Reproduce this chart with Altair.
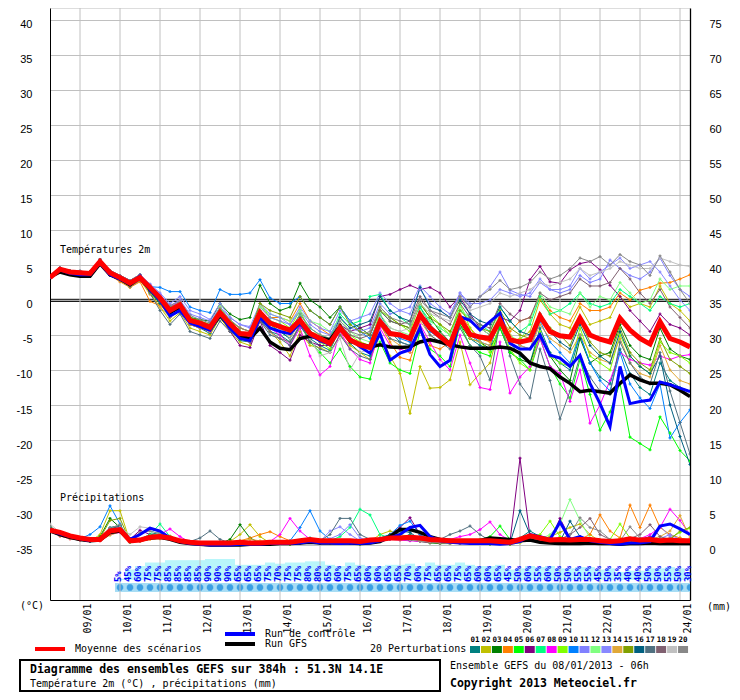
import altair as alt
import pandas as pd

# ---------------- data ----------------
STEPS = list(range(65))                       # 6-hourly steps from 08/01 06h to 24/01 06h
DATES = ["09/01", "10/01", "11/01", "12/01", "13/01", "14/01", "15/01", "16/01",
         "17/01", "18/01", "19/01", "20/01", "21/01", "22/01", "23/01", "24/01"]
DATE_STEPS = [3, 7, 11, 15, 19, 23, 27, 31, 35, 39, 43, 47, 51, 55, 59, 63]

MEMBERS = ["01", "02", "03", "04", "05", "06", "07", "08", "09", "10",
           "11", "12", "13", "14", "15", "16", "17", "18", "19", "20"]
COLORS = ["#008080", "#c0c000", "#008000", "#ff8000", "#00ff00", "#800080", "#00ff80",
          "#ff00ff", "#80ff00", "#0080ff", "#8080ff", "#80ff80", "#8888ff", "#e0a838",
          "#80a000", "#006080", "#507080", "#806070", "#c0c0c0", "#888888"]

PROB_STEPS = list(range(7, 65))
PROB = [5, 45, 60, 75, 75, 85, 85, 85, 85, 90, 90, 90, 65, 65, 65, 75, 70, 75, 75, 80,
        80, 65, 60, 75, 65, 60, 60, 65, 65, 70, 60, 75, 65, 65, 75, 65, 60, 60, 65, 45,
        50, 60, 55, 60, 50, 50, 55, 55, 45, 50, 35, 40, 40, 50, 50, 55, 50, 30]

T_MEAN = [3.2, 4.4, 4.0, 3.9, 3.8, 5.5, 3.9, 3.2, 2.4, 3.2, 1.8, 0.3, -1.5, -0.7, -2.9,
          -3.3, -3.9, -1.8, -3.4, -4.8, -4.9, -1.8, -3.3, -3.8, -4.3, -2.9, -4.8, -5.5, -6.2, -4.0,
          -5.7, -6.4, -6.8, -3.1, -4.8, -5.0, -5.5, -2.1, -4.0, -5.2, -6.4, -2.6, -4.9, -5.3, -5.5,
          -2.9, -5.7, -6.0, -5.7, -2.3, -4.5, -5.1, -5.3, -2.6, -5.0, -5.6, -6.0, -2.6, -4.3, -5.5,
          -6.3, -3.1, -5.5, -6.0, -6.7]
T_CTRL = [3.2, 4.3, 3.8, 3.6, 3.6, 5.3, 3.6, 3.0, 2.3, 3.4, 1.5, 0.0, -2.3, -1.5, -3.3,
          -3.8, -4.3, -2.0, -4.0, -5.5, -5.8, -2.5, -4.0, -4.5, -4.8, -3.3, -5.0, -5.8, -6.3, -4.0,
          -5.5, -6.7, -7.6, -4.8, -8.6, -7.6, -7.1, -4.0, -7.8, -9.5, -8.6, -2.4, -2.9, -4.3, -3.1,
          -1.9, -6.2, -7.0, -7.0, -5.0, -7.9, -8.3, -9.5, -7.9, -11.9, -14.8, -18.1, -9.5, -14.8, -14.5,
          -14.3, -11.7, -12.1, -12.6, -13.1]
T_GFS = [3.3, 4.0, 3.6, 3.4, 3.4, 5.2, 3.6, 3.0, 2.2, 3.2, 1.5, 0.2, -1.8, -1.0, -3.0,
         -3.5, -4.2, -2.2, -3.8, -5.2, -5.5, -4.0, -6.0, -6.9, -7.1, -5.5, -5.2, -5.4, -5.7, -3.8,
         -5.9, -6.3, -6.7, -6.4, -6.7, -6.8, -6.7, -6.0, -5.7, -6.0, -6.4, -6.7, -6.9, -6.9, -6.9,
         -6.7, -6.9, -7.6, -9.0, -9.5, -9.8, -11.0, -11.9, -13.1, -12.9, -13.1, -13.3, -11.9, -10.7, -11.4,
         -11.9, -11.9, -12.1, -12.9, -13.8]

T_P01 = [3.2, 4.5, 4.1, 4.0, 3.9, 5.6, 4.0, 3.3, 2.6, 3.3, 1.5, -0.5, -2.5, -1.2, -3.5, -4.0, -4.8, -2.5, -4.2, -5.8, -6.0, -2.8, -4.5, -5.0, -6.0, -3.8, -5.5, -6.5, -7.2, -4.0, -6.2, -7.5, -8.0, -2.0, -4.5, -6.0, -6.5, -1.0, -3.5, -5.0, -6.5, -3.0, -5.5, -6.5, -7.0, -2.0, -6.0, -8.0, -9.0, -4.0, -7.5, -9.0, -10.0, -5.0, -9.0, -11.0, -12.0, -7.0, -10.5, -12.5, -13.5, -9.0, -11.5, -12.5, -13.0]
T_P02 = [3.2, 4.2, 3.8, 3.7, 3.6, 5.2, 3.5, 2.8, 1.9, 2.8, 1.0, -1.0, -3.0, -1.8, -4.0, -4.5, -5.0, -2.5, -4.5, -6.0, -6.5, -2.0, -4.5, -6.0, -8.0, -4.5, -6.5, -6.8, -7.5, -5.0, -6.5, -7.5, -8.5, -5.0, -8.0, -10.5, -16.2, -9.5, -12.6, -12.5, -11.4, -6.0, -12.1, -10.5, -9.0, -3.5, -6.0, -5.5, -4.5, 0.0, -2.0, -3.5, -4.0, -1.0, -3.5, -3.0, -2.5, 0.5, -1.0, -0.5, -1.0, 2.0, -0.5, -1.5, -3.0]
T_P03 = [3.2, 4.3, 3.9, 3.8, 3.7, 5.3, 3.7, 3.0, 2.2, 3.0, 1.4, 0.0, -1.8, -0.5, -2.5, -2.8, -3.0, -0.5, -2.0, -2.8, -2.5, 2.1, -0.5, -1.5, -1.0, 2.4, 0.0, -1.0, -2.5, -1.0, -3.0, -4.0, -5.0, -1.5, -3.0, -3.5, -4.0, -0.5, -2.5, -4.5, -6.0, -3.5, -5.5, -6.0, -7.0, -4.0, -7.5, -8.5, -9.0, -5.0, -8.0, -10.0, -11.5, -5.5, -9.0, -8.0, -7.5, -3.5, -6.5, -8.0, -8.5, -4.0, -7.0, -8.0, -8.5]
T_P04 = [3.2, 4.3, 3.9, 3.7, 3.6, 5.4, 3.5, 2.6, 1.8, 2.6, -0.2, -0.8, -2.0, -1.0, -3.0, -3.0, -3.5, -1.0, -3.0, -4.0, -4.5, -1.0, -2.5, -2.5, -3.0, -0.5, -3.0, -4.0, -5.0, -3.5, -5.5, -6.0, -6.5, -3.5, -6.0, -8.2, -8.6, -4.0, -6.5, -7.0, -6.0, -2.0, -4.0, -5.5, -6.0, -2.5, -4.5, -3.0, -2.5, 0.5, -1.5, -2.5, -3.0, -0.5, -1.5, -1.5, -1.0, 1.0, 0.0, 1.4, 1.8, 2.4, 2.5, 3.0, 3.6]
T_P05 = [3.2, 4.6, 4.2, 4.1, 4.0, 5.8, 4.2, 3.5, 2.8, 3.6, 2.0, 0.5, -1.0, -0.3, -2.5, -3.0, -3.8, -1.5, -3.5, -5.0, -5.5, -2.0, -3.5, -4.5, -5.5, -3.0, -6.0, -7.5, -9.0, -7.0, -9.5, -11.0, -11.3, -6.0, -9.0, -10.0, -10.5, -4.5, -7.0, -8.0, -9.5, -3.5, -6.5, -7.5, -8.0, -4.0, -7.5, -8.5, -10.0, -5.5, -9.5, -12.0, -14.0, -8.5, -13.5, -18.6, -16.0, -11.9, -19.6, -20.5, -21.4, -16.7, -19.0, -21.5, -23.0]
T_P06 = [3.2, 4.5, 4.1, 4.0, 3.9, 5.6, 4.0, 3.3, 2.6, 3.3, 1.2, -0.5, -2.2, -1.5, -3.5, -4.0, -4.5, -2.0, -4.5, -6.5, -6.8, -3.0, -6.5, -7.5, -8.6, -5.0, -6.0, -6.5, -6.5, -3.5, -4.5, -4.0, -3.5, 0.5, 0.8, 1.5, 2.1, 1.5, 1.8, 1.0, -1.0, 0.5, -2.0, -4.0, -5.0, -2.5, -3.0, -1.5, 2.9, 4.8, 2.6, 2.4, 4.3, 5.2, 5.5, 4.3, 2.1, 0.5, -1.5, -3.0, -4.5, -2.0, -3.5, -4.0, -5.0]
T_P07 = [3.2, 4.3, 3.9, 3.8, 3.7, 5.3, 3.7, 3.0, 2.2, 3.0, 1.6, 0.2, -1.2, -0.5, -2.8, -3.5, -4.0, -1.5, -3.5, -5.0, -5.5, -1.5, -3.0, -3.5, -4.5, -2.0, -4.0, -5.0, -5.5, -2.0, -3.5, -3.0, 0.5, 0.8, -1.5, -2.5, -3.5, -1.0, -3.0, -4.0, -5.0, -1.5, -2.5, -3.5, -4.5, -1.0, -3.0, -4.5, -3.5, 0.5, -2.0, -1.5, -0.5, 1.0, -0.5, -1.0, -0.5, 1.5, 0.5, -0.5, -1.5, 0.5, -0.5, -1.0, -0.5]
T_P08 = [3.2, 4.6, 4.2, 4.1, 4.0, 5.8, 4.2, 3.5, 2.8, 3.6, 2.2, 0.8, -1.0, -0.2, -3.0, -3.5, -4.5, -2.0, -4.0, -5.5, -6.0, -2.5, -4.0, -5.0, -6.5, -4.0, -8.0, -10.7, -9.5, -4.5, -7.0, -8.5, -9.0, -4.0, -6.5, -7.0, -7.5, -3.5, -6.0, -8.5, -10.0, -5.0, -9.0, -12.5, -12.8, -6.0, -13.3, -11.0, -9.5, -5.5, -9.5, -10.5, -14.5, -10.0, -17.6, -15.0, -11.5, -7.5, -8.5, -9.0, -9.3, -8.0, -8.5, -8.0, -7.8]
T_P09 = [3.2, 4.2, 3.8, 3.7, 3.6, 5.2, 3.5, 2.8, 1.9, 2.8, 1.0, -0.5, -2.0, -1.0, -3.2, -3.8, -4.2, -1.0, -3.0, -4.5, -5.0, -0.5, -2.5, -3.0, -4.0, -1.5, -4.5, -6.0, -7.0, -3.5, -5.0, -6.0, -6.5, -1.5, -2.5, -3.5, -4.5, -0.5, -2.0, -3.5, -5.0, -0.5, -4.0, -6.0, -7.5, -3.5, -7.0, -9.0, -10.0, -4.5, -8.0, -9.0, -9.5, -4.0, -8.0, -9.0, -10.0, -5.0, -8.0, -9.5, -10.5, -6.0, -7.5, -8.0, -9.0]
T_P10 = [3.2, 4.4, 4.0, 3.9, 3.8, 5.3, 3.8, 3.3, 2.8, 3.5, 1.9, 1.8, 1.2, 1.2, -1.0, -1.5, -1.8, 1.5, 0.8, 0.8, 1.0, 2.9, 0.3, -0.5, -0.5, 0.5, -1.5, -2.5, -3.5, -1.0, -3.0, -4.5, -5.5, -2.5, -4.5, -5.5, -6.0, -2.5, -4.5, -5.5, -6.5, -3.0, -5.0, -6.0, -6.5, -3.0, -5.5, -6.5, -7.0, -3.0, -6.0, -7.5, -9.0, -5.0, -9.0, -11.5, -13.0, -7.5, -12.0, -14.0, -15.5, -12.0, -19.7, -17.5, -15.7]
T_P11 = [3.2, 4.5, 4.1, 4.0, 3.9, 5.6, 4.0, 3.3, 2.6, 3.3, 2.0, 0.8, -0.8, 0.0, -2.0, -2.5, -3.0, -1.0, -2.5, -3.5, -4.0, -1.0, -2.5, -3.0, -3.5, -1.5, -3.5, -4.5, -5.0, -2.5, -4.0, -4.5, -4.0, -0.5, -2.0, -1.5, -1.0, 2.0, 0.5, -1.0, -2.0, 1.0, -1.0, 0.5, 1.9, 4.0, 1.4, 0.8, 0.5, 2.5, 1.5, 1.0, 1.5, 3.5, 2.5, 3.0, 5.7, 4.5, 3.5, 3.0, 4.0, 6.0, 3.5, 1.5, 0.5]
T_P12 = [3.2, 4.3, 3.9, 3.8, 3.7, 5.3, 3.7, 3.0, 2.2, 3.0, 1.8, 0.0, -1.5, -0.8, -3.0, -3.5, -4.0, -1.0, -3.0, -4.5, -5.0, -1.0, -2.0, -2.5, -3.0, -1.5, -3.0, -3.5, -4.5, -2.5, -4.5, -5.5, -6.0, -2.0, -4.0, -4.5, -5.0, -1.5, -3.0, -4.0, -5.0, -1.0, -3.0, -4.0, -5.0, -2.0, -5.0, -6.0, -3.0, 1.0, -1.0, -1.5, -2.0, 1.0, -1.0, 0.5, 0.0, 2.5, 1.0, -0.5, 0.0, 3.0, 1.5, 2.0, 2.0]
T_P13 = [3.2, 4.6, 4.2, 4.1, 4.0, 5.8, 4.2, 3.5, 2.8, 3.6, 2.3, 1.0, -0.5, 0.5, -1.5, -2.0, -2.8, -0.5, -2.5, -3.5, -3.8, -0.5, -2.0, -2.5, -3.5, -1.0, -3.0, -4.0, -4.5, -1.5, -3.0, -2.5, -2.0, 1.0, -0.5, -1.5, -2.0, 1.5, -0.5, -1.5, -2.5, 1.0, -0.5, -0.5, 0.0, 1.5, 1.0, 0.5, 1.0, 3.0, 1.5, 1.5, 2.0, 4.5, 3.0, 4.0, 5.0, 6.0, 4.5, 5.0, 5.5, 4.0, 2.0, 0.0, -1.5]
T_P14 = [3.2, 4.2, 3.8, 3.7, 3.6, 5.2, 3.5, 2.8, 1.9, 2.8, 0.8, -1.0, -2.5, -1.5, -3.5, -4.0, -4.5, -2.0, -3.5, -5.0, -5.5, -1.5, -3.5, -4.0, -5.0, -2.5, -4.5, -5.0, -6.0, -4.0, -6.0, -6.5, -7.0, -3.0, -5.5, -6.5, -7.5, -3.0, -5.0, -6.0, -6.5, -3.0, -5.5, -6.0, -6.5, -2.5, -5.0, -6.5, -7.0, -3.5, -5.5, -6.5, -7.5, -5.0, -7.5, -8.5, -9.0, -5.5, -9.0, -10.5, -11.0, -6.5, -10.0, -11.5, -12.0]
T_P15 = [3.2, 4.5, 4.1, 4.0, 3.9, 5.6, 4.0, 3.3, 2.6, 3.3, 1.6, 0.5, -1.0, -0.5, -2.5, -3.0, -3.5, -1.5, -3.0, -4.0, -4.5, -0.5, -1.5, -2.0, -2.5, 0.5, -1.5, -2.5, -3.5, -1.0, -3.5, -4.5, -5.0, -1.0, -2.5, -3.5, -4.0, -0.5, -2.5, -3.5, -4.5, -1.5, -3.0, -4.0, -4.5, -1.5, -4.0, -5.0, -5.5, -2.0, -4.0, -5.0, -6.5, -3.0, -6.0, -7.5, -8.0, -4.0, -7.5, -9.0, -10.0, -5.5, -8.5, -9.5, -10.5]
T_P16 = [3.2, 4.3, 3.9, 3.8, 3.7, 5.3, 3.7, 3.0, 2.2, 3.0, 1.2, -0.5, -2.0, -1.0, -3.0, -3.5, -4.0, -2.0, -3.5, -5.0, -5.5, -2.0, -4.0, -4.5, -5.5, -2.5, -4.5, -5.5, -6.0, -2.5, -4.0, -3.5, -3.0, 0.5, -1.5, -2.5, -3.0, 1.8, -1.0, -1.5, -2.5, 0.0, -2.0, -3.0, -3.5, -1.0, -3.0, -4.5, -5.0, -2.0, -4.5, -6.0, -7.0, -3.5, -6.5, -8.0, -9.0, -4.5, -8.0, -9.5, -10.5, -8.0, -15.0, -19.5, -23.5]
T_P17 = [3.2, 4.6, 4.2, 4.1, 4.0, 5.8, 4.2, 3.5, 2.8, 3.6, 1.0, -1.5, -3.5, -2.0, -4.5, -5.0, -5.5, -3.0, -4.5, -5.5, -6.0, -3.0, -5.0, -5.5, -6.5, -3.5, -6.0, -7.0, -7.5, -5.0, -7.0, -8.0, -8.5, -3.5, -5.5, -6.0, -6.5, -2.5, -5.0, -6.0, -7.0, -4.0, -6.5, -8.0, -11.4, -3.0, -8.0, -12.0, -14.0, -7.0, -11.5, -17.0, -13.0, -8.0, -11.0, -13.0, -13.5, -6.0, -9.0, -11.0, -12.0, -7.5, -13.0, -17.5, -22.0]
T_P18 = [3.2, 4.2, 3.8, 3.7, 3.6, 5.2, 3.5, 2.8, 1.9, 2.8, 1.3, 0.0, -1.5, -1.0, -3.0, -3.5, -4.2, -2.2, -4.0, -5.5, -6.0, -3.0, -4.5, -5.5, -6.0, -3.5, -5.0, -6.0, -6.5, -3.5, -5.0, -5.5, -5.0, -1.5, -3.0, -3.5, -3.0, 0.5, -1.5, -2.5, -3.5, -0.5, -2.5, -3.5, -4.0, -0.5, -2.0, -3.0, -2.5, 1.0, 0.0, 0.5, 1.0, 3.0, 2.0, 2.0, 2.5, 4.5, 3.0, 1.0, -0.5, 1.5, -1.0, -2.5, -4.0]
T_P19 = [3.2, 4.5, 4.1, 4.0, 3.9, 5.6, 4.0, 3.3, 2.6, 3.3, 1.7, 0.4, -1.2, -0.6, -2.7, -3.2, -3.8, -1.7, -3.3, -4.8, -5.0, -2.0, -3.5, -4.0, -5.5, -3.0, -5.5, -8.0, -7.5, -5.5, -10.0, -7.5, -7.0, -2.5, -4.0, -4.5, -4.0, -0.5, -2.0, -2.5, -3.0, 0.5, -1.5, -1.0, -0.5, 1.0, 0.5, 1.0, 1.5, 2.5, 2.0, 2.5, 3.0, 4.5, 3.5, 4.0, 4.5, 5.5, 5.0, 4.5, 4.5, 6.0, 5.5, 5.0, 4.8]
T_P20 = [3.2, 4.6, 4.2, 4.1, 4.0, 5.8, 4.2, 3.5, 2.8, 3.6, 2.1, 0.6, -0.8, -0.2, -2.2, -2.8, -3.3, -1.2, -2.8, -4.0, -4.5, -1.5, -3.0, -4.0, -4.5, -2.0, -4.0, -5.0, -5.5, -3.0, -4.5, -5.0, -4.5, -1.0, -2.5, -3.0, -3.5, 0.0, -1.5, -2.0, -2.5, 0.5, -1.0, 0.5, 1.5, 2.8, 1.5, 1.8, 2.5, 4.0, 3.0, 3.5, 4.5, 6.0, 5.5, 6.2, 5.0, 6.5, 5.5, 5.0, 3.5, 6.3, 4.0, 1.5, -0.5]

# precipitation (mm per 6 h)
P_MEAN = [2.1, 1.8, 1.3, 1.0, 0.8, 0.8, 2.0, 2.2, 0.6, 0.7, 1.1, 1.2, 1.0, 0.6, 0.4, 0.3, 0.3, 0.3, 0.3, 0.4, 0.3, 0.3, 0.4, 0.4, 0.4, 0.6, 0.8, 0.6, 0.6, 0.6, 0.6, 0.5, 0.7, 0.8, 1.0, 1.0, 1.1, 1.0, 0.8, 0.7, 0.6, 0.6, 0.6, 0.6, 0.6, 0.5, 0.4, 0.8, 1.3, 1.0, 0.7, 0.8, 0.7, 0.8, 0.8, 0.6, 0.5, 0.6, 0.9, 0.7, 0.8, 0.6, 0.7, 0.6, 0.6]
P_CTRL = [2.1, 1.6, 1.2, 0.9, 0.6, 0.8, 2.0, 2.3, 0.8, 1.5, 2.4, 2.0, 1.0, 0.5, 0.2, 0.1, 0.0, 0.0, 0.0, 0.1, 0.1, 0.1, 0.2, 0.2, 0.2, 0.3, 0.5, 0.3, 0.3, 0.2, 0.3, 0.2, 0.3, 0.6, 1.0, 1.5, 2.5, 2.8, 1.2, 0.6, 0.4, 0.3, 0.2, 0.2, 0.2, 0.1, 0.2, 0.5, 1.5, 1.2, 0.8, 3.3, 0.8, 1.2, 0.6, 0.4, 0.2, 0.1, 0.3, 0.3, 0.5, 2.7, 3.0, 2.3, 1.5]
P_GFS = [2.0, 1.5, 1.1, 0.8, 0.6, 0.7, 1.8, 2.0, 0.6, 0.7, 1.0, 1.1, 0.8, 0.4, 0.2, 0.1, 0.0, 0.0, 0.0, 0.0, 0.1, 0.1, 0.1, 0.2, 0.2, 0.3, 0.4, 0.3, 0.3, 0.3, 0.3, 0.2, 0.3, 0.5, 1.2, 2.2, 2.2, 1.8, 1.2, 0.8, 0.6, 0.5, 0.6, 0.6, 1.0, 0.9, 0.8, 0.6, 0.7, 0.4, 0.3, 0.2, 0.2, 0.2, 0.3, 0.2, 0.2, 0.1, 0.2, 0.2, 0.3, 0.2, 0.2, 0.2, 0.2]

P_P01 = [2.5, 1.6, 1.2, 0.9, 0.6, 0.9, 2.5, 2.8, 0.4, 0.8, 1.5, 1.8, 1.2, 0.5, 0.2, 0.1, 0.2, 0.1, 0.1, 0.3, 0.2, 0.1, 0.2, 0.3, 0.2, 0.5, 1.0, 0.4, 0.5, 0.3, 0.4, 0.2, 0.5, 0.8, 1.2, 1.0, 1.5, 0.8, 0.6, 0.4, 0.3, 0.5, 0.4, 0.3, 0.2, 0.3, 0.2, 1.0, 2.0, 1.2, 0.6, 0.5, 0.4, 0.6, 0.9, 0.5, 0.3, 0.4, 0.7, 0.5, 0.6, 0.3, 0.5, 0.4, 0.3]
P_P02 = [2.2, 1.4, 1.0, 0.8, 0.5, 1.5, 4.9, 4.9, 0.5, 0.6, 1.0, 1.3, 0.8, 0.4, 0.2, 0.1, 0.2, 0.3, 0.5, 1.5, 2.9, 1.2, 0.3, 0.2, 0.1, 0.3, 0.5, 0.3, 0.4, 0.2, 0.3, 0.2, 0.5, 1.5, 2.0, 1.5, 1.2, 0.6, 0.4, 0.3, 0.2, 0.3, 0.4, 0.2, 0.3, 0.2, 0.1, 0.3, 1.0, 0.8, 1.2, 1.8, 2.5, 3.0, 1.5, 0.5, 0.3, 1.0, 0.6, 0.4, 0.5, 0.8, 0.6, 1.0, 0.7]
P_P03 = [2.4, 1.5, 1.1, 0.8, 0.6, 1.2, 3.8, 2.5, 0.5, 0.7, 1.4, 1.5, 1.0, 0.5, 0.2, 0.1, 0.1, 0.2, 0.8, 2.9, 1.0, 0.3, 0.2, 0.2, 0.1, 0.2, 0.4, 0.2, 0.3, 0.2, 0.2, 0.1, 0.4, 0.6, 0.9, 0.8, 0.7, 0.5, 0.3, 0.2, 0.2, 0.3, 0.2, 0.2, 0.1, 0.2, 0.1, 0.5, 0.8, 0.6, 0.5, 0.6, 0.5, 0.4, 0.6, 0.4, 0.3, 0.5, 0.8, 0.6, 0.9, 0.5, 0.4, 0.3, 0.2]
P_P04 = [2.0, 1.3, 0.9, 0.7, 0.5, 0.6, 1.5, 2.0, 0.6, 0.5, 0.8, 0.9, 0.8, 0.5, 0.3, 0.2, 0.2, 0.2, 0.3, 0.6, 1.0, 1.5, 1.9, 1.2, 0.6, 0.5, 0.6, 0.4, 0.5, 0.4, 0.5, 0.3, 0.4, 0.6, 0.8, 0.7, 0.8, 0.6, 0.5, 0.4, 0.4, 0.3, 0.4, 0.5, 0.3, 0.2, 0.2, 0.4, 0.8, 0.6, 0.5, 0.4, 0.6, 0.8, 1.5, 4.3, 2.0, 1.0, 5.7, 2.5, 5.7, 2.5, 1.5, 1.0, 0.6]
P_P05 = [2.6, 1.7, 1.2, 0.9, 0.7, 0.8, 2.2, 2.6, 0.4, 0.6, 1.2, 1.4, 1.1, 0.6, 0.3, 0.2, 0.2, 0.2, 0.2, 0.4, 0.3, 0.2, 0.3, 0.5, 0.4, 0.6, 0.9, 0.6, 0.5, 0.4, 0.6, 0.5, 0.8, 1.0, 1.4, 1.2, 1.3, 0.9, 0.6, 0.5, 0.4, 0.5, 0.6, 0.8, 1.2, 2.7, 0.8, 0.5, 1.0, 0.6, 0.4, 0.5, 0.6, 0.5, 0.4, 0.3, 0.2, 0.4, 0.5, 0.3, 0.4, 0.3, 0.3, 0.2, 0.2]
P_P06 = [2.3, 1.5, 1.1, 0.8, 0.6, 0.7, 1.8, 2.0, 0.8, 2.1, 1.5, 1.2, 0.9, 0.4, 0.2, 0.1, 0.1, 0.1, 0.2, 0.3, 0.2, 0.2, 0.3, 0.3, 0.2, 0.4, 0.6, 0.4, 0.5, 0.3, 0.4, 0.3, 0.5, 0.8, 1.5, 2.5, 3.9, 1.5, 0.6, 0.4, 0.3, 0.2, 0.3, 0.3, 0.2, 0.2, 0.5, 12.4, 1.2, 0.8, 0.6, 3.8, 1.0, 0.5, 0.4, 0.3, 0.2, 0.4, 0.5, 0.8, 1.2, 0.6, 0.4, 0.3, 0.3]
P_P07 = [2.1, 1.4, 1.0, 0.8, 0.6, 0.7, 1.6, 2.0, 0.6, 0.8, 1.5, 3.0, 1.2, 0.5, 0.3, 0.2, 0.2, 0.2, 0.3, 0.4, 0.3, 0.2, 0.2, 0.3, 0.3, 0.5, 0.7, 0.5, 0.6, 1.2, 2.5, 5.1, 4.3, 1.5, 1.0, 0.8, 0.9, 0.7, 0.5, 0.4, 0.3, 0.4, 0.3, 0.3, 0.2, 0.3, 0.2, 0.4, 0.9, 0.6, 0.5, 0.6, 0.4, 0.5, 0.6, 0.4, 0.3, 0.5, 0.7, 0.5, 0.6, 0.4, 0.5, 0.4, 0.3]
P_P08 = [2.0, 1.3, 0.9, 0.7, 0.5, 0.6, 1.5, 1.8, 0.5, 0.6, 1.0, 1.5, 2.3, 1.2, 0.4, 0.2, 0.1, 0.1, 0.2, 0.3, 0.2, 0.3, 0.5, 1.5, 3.8, 2.0, 0.8, 0.5, 0.4, 0.3, 0.4, 0.3, 0.5, 0.6, 0.8, 0.7, 0.6, 0.5, 0.4, 0.5, 0.8, 1.2, 1.5, 2.2, 3.3, 1.5, 0.6, 0.5, 0.9, 0.7, 0.5, 0.4, 0.5, 0.6, 0.4, 0.3, 0.2, 0.5, 0.8, 0.9, 1.5, 2.5, 5.1, 3.5, 1.5]
P_P09 = [2.3, 1.5, 1.1, 0.9, 0.6, 0.8, 2.0, 2.4, 0.5, 0.7, 1.2, 1.6, 1.3, 0.6, 0.3, 0.2, 0.2, 0.2, 0.2, 0.3, 0.2, 0.2, 0.3, 0.3, 0.2, 0.4, 0.7, 0.5, 0.6, 0.4, 0.5, 0.4, 0.6, 0.9, 1.1, 1.0, 0.9, 0.7, 0.5, 0.4, 0.4, 0.3, 0.4, 0.5, 0.4, 0.5, 0.3, 0.6, 1.2, 1.5, 3.4, 1.2, 0.6, 0.5, 0.6, 0.5, 0.8, 3.0, 1.0, 0.6, 0.5, 0.6, 1.0, 1.8, 2.4]
P_P10 = [2.4, 1.6, 1.2, 0.9, 1.5, 2.6, 5.6, 3.0, 0.5, 0.6, 1.1, 1.3, 1.0, 0.5, 0.3, 0.2, 0.2, 0.2, 0.2, 0.3, 0.2, 0.2, 0.3, 0.4, 0.6, 2.5, 4.9, 2.0, 0.8, 0.5, 0.5, 0.3, 0.5, 1.0, 1.5, 2.8, 3.4, 1.5, 0.6, 0.4, 0.3, 0.4, 0.5, 0.4, 0.3, 0.3, 0.2, 0.9, 1.5, 0.8, 0.5, 0.6, 0.5, 0.6, 0.5, 0.3, 0.2, 0.4, 0.6, 0.4, 0.5, 0.4, 0.6, 0.7, 0.5]
P_P11 = [2.2, 1.5, 1.1, 0.8, 0.6, 0.9, 2.2, 2.6, 0.6, 0.7, 1.2, 1.1, 0.9, 0.5, 0.3, 0.2, 0.1, 0.2, 0.2, 0.3, 0.2, 0.2, 0.3, 0.3, 0.3, 0.4, 0.6, 0.5, 0.9, 1.5, 2.9, 1.0, 0.6, 0.7, 0.9, 0.8, 1.0, 0.7, 0.5, 0.3, 0.3, 0.4, 0.3, 0.4, 0.2, 0.3, 0.2, 0.5, 1.0, 0.7, 0.6, 0.5, 0.6, 0.7, 0.5, 0.6, 0.4, 0.5, 0.6, 0.8, 0.7, 0.9, 1.5, 0.8, 0.5]
P_P12 = [2.1, 1.4, 1.0, 0.8, 0.6, 0.7, 1.9, 2.3, 0.5, 0.7, 1.3, 1.4, 1.0, 0.5, 0.3, 0.2, 0.2, 0.2, 0.2, 0.3, 0.2, 0.2, 0.3, 0.3, 0.3, 0.5, 0.8, 0.6, 0.5, 0.4, 0.5, 0.4, 0.6, 0.8, 1.0, 0.9, 0.8, 0.6, 0.5, 0.4, 0.3, 0.3, 0.4, 0.3, 0.3, 0.2, 0.2, 0.4, 0.7, 0.8, 1.5, 3.0, 6.5, 3.5, 1.0, 0.5, 0.4, 0.5, 0.7, 0.6, 0.5, 0.4, 0.6, 0.5, 0.4]
P_P13 = [2.3, 1.5, 1.1, 0.8, 0.6, 0.8, 2.0, 2.3, 0.6, 0.8, 1.1, 1.2, 0.9, 0.5, 0.3, 0.2, 0.2, 0.2, 0.3, 0.3, 0.2, 0.2, 0.2, 0.3, 0.3, 0.4, 0.6, 0.5, 2.0, 2.6, 1.5, 0.6, 0.6, 0.8, 1.0, 0.9, 0.9, 0.7, 0.5, 0.4, 0.3, 0.3, 0.4, 0.3, 0.3, 0.2, 0.2, 0.6, 1.2, 0.9, 0.6, 0.5, 0.6, 0.7, 0.5, 0.5, 0.4, 0.6, 0.9, 0.7, 1.0, 2.7, 1.2, 0.6, 0.4]
P_P14 = [2.0, 1.3, 0.9, 0.7, 0.5, 0.6, 1.4, 1.9, 0.7, 0.6, 0.9, 1.0, 0.8, 0.5, 0.3, 0.3, 0.2, 0.3, 0.4, 0.6, 0.8, 0.6, 0.4, 0.3, 0.2, 0.3, 0.5, 0.4, 0.4, 0.3, 0.4, 0.3, 0.5, 0.7, 0.9, 0.8, 0.8, 0.6, 0.4, 0.3, 0.3, 0.2, 0.3, 0.3, 0.2, 0.2, 0.2, 0.4, 0.8, 0.6, 0.5, 0.5, 0.4, 0.5, 0.6, 0.8, 0.6, 0.7, 0.9, 0.7, 0.8, 1.2, 2.0, 4.2, 1.0]
P_P15 = [2.5, 1.6, 1.2, 0.9, 0.6, 1.0, 3.5, 3.8, 0.5, 0.8, 1.3, 1.5, 1.2, 0.6, 0.3, 0.2, 0.2, 0.2, 0.3, 0.4, 0.4, 0.3, 0.3, 0.3, 0.2, 0.4, 0.6, 0.5, 0.5, 0.4, 0.4, 0.3, 0.6, 0.9, 1.2, 1.0, 0.9, 0.6, 0.5, 0.4, 0.3, 0.3, 0.4, 0.4, 0.3, 0.3, 0.2, 0.6, 1.1, 0.8, 0.5, 0.6, 0.7, 0.6, 0.5, 0.4, 0.3, 0.5, 0.6, 0.5, 0.5, 0.6, 0.8, 2.0, 2.5]
P_P16 = [2.4, 1.5, 1.1, 0.8, 0.6, 0.8, 2.3, 2.7, 0.5, 0.7, 1.2, 1.4, 1.0, 0.5, 0.3, 0.2, 0.2, 0.2, 0.2, 0.3, 0.2, 0.2, 0.3, 0.3, 0.3, 0.4, 0.6, 0.5, 0.5, 0.4, 0.5, 0.4, 0.6, 0.9, 1.5, 2.0, 1.8, 0.8, 0.5, 0.4, 0.4, 0.3, 0.4, 0.3, 0.3, 0.2, 0.3, 4.9, 1.5, 0.8, 0.6, 0.5, 3.4, 1.2, 0.6, 0.4, 0.3, 0.5, 0.7, 0.5, 0.6, 0.5, 0.6, 0.5, 0.4]
P_P17 = [2.6, 1.7, 1.2, 0.9, 0.7, 0.9, 2.4, 2.8, 0.6, 0.8, 1.2, 1.3, 1.0, 0.6, 0.5, 1.0, 2.0, 0.8, 0.3, 0.2, 0.2, 0.2, 0.2, 0.3, 0.3, 0.5, 0.8, 0.6, 1.5, 3.8, 3.8, 1.5, 0.8, 0.8, 1.0, 0.9, 0.8, 0.7, 0.6, 0.8, 1.5, 2.0, 2.7, 1.5, 0.6, 0.4, 0.3, 0.6, 1.0, 0.8, 0.6, 0.5, 0.6, 0.5, 0.4, 0.3, 0.3, 0.4, 0.6, 0.5, 0.6, 0.5, 0.7, 0.6, 0.4]
P_P18 = [2.2, 1.4, 1.0, 0.8, 0.6, 0.7, 1.8, 2.1, 0.6, 0.7, 1.1, 1.2, 0.9, 0.5, 0.3, 0.2, 0.2, 0.2, 0.2, 0.3, 0.2, 0.2, 0.3, 0.3, 0.3, 0.4, 0.6, 0.4, 0.5, 0.3, 0.4, 0.3, 0.5, 0.7, 0.9, 0.8, 0.7, 0.6, 0.4, 0.3, 0.3, 0.3, 0.3, 0.3, 0.2, 0.2, 0.2, 0.5, 0.9, 0.7, 0.6, 0.8, 1.5, 2.5, 3.8, 1.5, 0.8, 0.6, 0.9, 1.5, 2.9, 1.2, 0.8, 0.6, 0.5]
P_P19 = [3.0, 1.8, 1.3, 1.0, 0.7, 0.9, 2.2, 2.5, 1.5, 2.6, 2.4, 1.8, 1.2, 0.6, 0.3, 0.2, 0.2, 0.2, 0.2, 0.3, 0.2, 0.2, 0.3, 0.3, 0.3, 0.4, 0.6, 0.5, 0.5, 0.4, 0.4, 0.3, 0.5, 0.8, 1.0, 0.9, 0.8, 0.6, 0.5, 0.4, 0.3, 0.3, 0.4, 0.3, 0.3, 0.2, 0.2, 0.5, 0.8, 0.7, 0.5, 0.5, 0.6, 0.5, 0.4, 0.4, 0.3, 0.5, 0.6, 0.5, 0.5, 0.4, 0.5, 0.4, 0.4]
P_P20 = [2.7, 1.6, 1.2, 0.9, 0.6, 0.8, 2.4, 2.9, 0.7, 1.8, 2.0, 1.6, 1.2, 0.6, 0.3, 0.2, 0.2, 0.2, 0.2, 0.3, 0.2, 0.2, 0.3, 0.3, 0.3, 0.4, 0.6, 0.5, 0.5, 0.4, 0.4, 0.3, 0.5, 0.7, 1.0, 0.9, 0.8, 0.6, 0.5, 0.4, 0.3, 0.4, 0.3, 0.4, 0.3, 0.2, 0.2, 0.5, 0.9, 0.7, 0.6, 0.7, 1.5, 3.9, 2.5, 2.0, 0.8, 0.6, 2.6, 1.0, 0.7, 0.5, 0.6, 0.5, 0.4]

PERT_T = [T_P01, T_P02, T_P03, T_P04, T_P05, T_P06, T_P07, T_P08, T_P09, T_P10,
          T_P11, T_P12, T_P13, T_P14, T_P15, T_P16, T_P17, T_P18, T_P19, T_P20]
PERT_P = [P_P01, P_P02, P_P03, P_P04, P_P05, P_P06, P_P07, P_P08, P_P09, P_P10,
          P_P11, P_P12, P_P13, P_P14, P_P15, P_P16, P_P17, P_P18, P_P19, P_P20]

for arr in PERT_T + PERT_P + [T_MEAN, T_CTRL, T_GFS, P_MEAN, P_CTRL, P_GFS]:
    assert len(arr) == len(STEPS), len(arr)
assert len(PROB) == len(PROB_STEPS)

# ---------------- tables ----------------
pert_rows = []
for name, t, p in zip(MEMBERS, PERT_T, PERT_P):
    for s in STEPS:
        pert_rows.append({"step": s, "raw": t[s], "kind": "t", "member": name})
        pert_rows.append({"step": s, "raw": p[s], "kind": "p", "member": name})
df_pert = pd.DataFrame(pert_rows)


def main_df(t, p):
    rows = [{"step": s, "raw": t[s], "kind": "t"} for s in STEPS]
    rows += [{"step": s, "raw": p[s], "kind": "p"} for s in STEPS]
    return pd.DataFrame(rows)


df_mean = main_df(T_MEAN, P_MEAN)
df_ctrl = main_df(T_CTRL, P_CTRL)
df_gfs = main_df(T_GFS, P_GFS)
df_prob = pd.DataFrame({"step": PROB_STEPS, "prob": PROB})
df_days = pd.DataFrame({"step": DATE_STEPS})
df_zero = pd.DataFrame({"v": [0.1, -0.2]})
ONE = pd.DataFrame({"k": [0]})

# ---------------- scales / axes ----------------
MONO = "DejaVu Sans Mono"
SANS = "Liberation Sans"
OX, OY = 50, 8  # page position of the plot origin

XS = alt.Scale(domain=[0, 64], nice=False, zero=False)
YS = alt.Scale(domain=[-42.857, 41.714], nice=False, zero=False)
YVALS = list(range(-35, 41, 5))

date_expr = "[" + ",".join("'%s'" % d for d in DATES) + "][(datum.value - 3) / 4]"
XAXIS = alt.Axis(values=DATE_STEPS, labelExpr=date_expr, grid=False, ticks=False,
                 domain=True, domainColor="black", domainWidth=1, labelAngle=270,
                 labelAlign="right", labelBaseline="middle", labelOffset=7, labelPadding=3,
                 labelFont=MONO, labelFontSize=10, labelColor="black", labelFlush=False,
                 labelOverlap=False, title=None)
YAXIS_L = alt.Axis(orient="left", values=YVALS, labelExpr="'' + datum.value", grid=True,
                   gridColor="#c0c0c0", gridWidth=1, ticks=False, domain=True,
                   domainColor="black", domainWidth=1, labelFont=SANS, labelFontSize=11,
                   labelColor="black", labelPadding=18, labelAlign="right",
                   labelBaseline="top", labelOffset=-1, labelOverlap=False,
                   labelFlush=False, title=None)
YAXIS_R = alt.Axis(orient="right", values=YVALS, labelExpr="'' + (datum.value + 35)",
                   grid=False, ticks=False, domain=True, domainColor="black", domainWidth=1.3,
                   labelFont=SANS, labelFontSize=11, labelColor="black", labelPadding=19,
                   labelAlign="left", labelBaseline="top", labelOffset=-1,
                   labelOverlap=False, labelFlush=False, title=None)

X = alt.X("step:Q", scale=XS, axis=XAXIS)
Y = alt.Y("y:Q", scale=YS, axis=YAXIS_L)
YCALC = "datum.kind == 'p' ? datum.raw - 35 : datum.raw"

# ---------------- layers ----------------
right_layer = alt.Chart(df_zero).mark_rule(color="black", strokeWidth=1).encode(
    y=alt.Y("v:Q", scale=YS, axis=YAXIS_R))

prob_base = alt.Chart(df_prob).transform_calculate(
    x1="datum.step - 0.5", x2="datum.step + 0.5",
    ytop="-40 + datum.prob / 30", ybot="-40",
    sb1="-40.43", sb2="-41.71", sc="-41.07",
    xl="datum.step - 0.2", yl="-40.3", lab="datum.prob + '%'")

prob_bars = prob_base.mark_rect(color="#b8f6fa", clip=True).encode(
    x=alt.X("x1:Q", scale=XS, axis=XAXIS), x2="x2:Q",
    y=alt.Y("ytop:Q", scale=YS, axis=YAXIS_L), y2="ybot:Q")
snow_band = prob_base.mark_rect(color="#a6dcf4", clip=True).encode(
    x=alt.X("x1:Q", scale=XS, axis=XAXIS), x2="x2:Q",
    y=alt.Y("sb1:Q", scale=YS, axis=YAXIS_L), y2="sb2:Q")
snow_a = prob_base.mark_point(shape="cross", filled=True, size=42, color="#3c9fe3",
                              strokeWidth=0, opacity=1, clip=True).encode(
    x=alt.X("step:Q", scale=XS, axis=XAXIS), y=alt.Y("sc:Q", scale=YS, axis=YAXIS_L))
snow_b = prob_base.mark_point(shape="cross", filled=True, size=42, angle=45, color="#3c9fe3",
                              strokeWidth=0, opacity=1, clip=True).encode(
    x=alt.X("step:Q", scale=XS, axis=XAXIS), y=alt.Y("sc:Q", scale=YS, axis=YAXIS_L))
prob_text = prob_base.mark_text(angle=270, align="left", baseline="middle", font=MONO,
                                fontSize=9, fontWeight="bold", color="#0000ff").encode(
    x=alt.X("xl:Q", scale=XS, axis=XAXIS), y=alt.Y("yl:Q", scale=YS, axis=YAXIS_L),
    text="lab:N")

day_grid = alt.Chart(df_days).mark_rule(color="#c0c0c0", strokeWidth=1).encode(x=X)

pert_color = alt.Color("member:N", scale=alt.Scale(domain=MEMBERS, range=COLORS), legend=None)
pert_base = alt.Chart(df_pert).transform_calculate(y=YCALC, series="datum.member + datum.kind")
pert_lines = pert_base.mark_line(strokeWidth=1, clip=True).encode(
    x=X, y=Y, color=pert_color, detail="series:N")
pert_pts = pert_base.mark_point(shape="cross", filled=True, size=9, strokeWidth=0,
                                opacity=1, clip=True).encode(
    x=X, y=Y, color=pert_color, detail="series:N")


def main_line(df, color, width):
    return alt.Chart(df).transform_calculate(y=YCALC).mark_line(
        color=color, strokeWidth=width, clip=True).encode(x=X, y=Y, detail="kind:N")


gfs_line = main_line(df_gfs, "#000000", 3.5)
ctrl_line = main_line(df_ctrl, "#0000ff", 3)
mean_line = main_line(df_mean, "#ff0000", 5)


def txt(s, px, py, size=10, bold=False, align="left", font=MONO, color="black"):
    return alt.Chart(ONE).mark_text(text=s, align=align, baseline="middle", font=font,
                                    fontSize=size, fontWeight="bold" if bold else "normal",
                                    color=color, fill=color).encode(
        x=alt.value(px - OX), y=alt.value(py - OY))


def hline(x1, x2, py, color, width):
    return alt.Chart(ONE).mark_rule(color=color, strokeWidth=width).encode(
        x=alt.value(x1 - OX), x2=alt.value(x2 - OX), y=alt.value(py - OY))


def box(x1, x2, y1, y2, color, filled=True, width=0):
    return alt.Chart(ONE).mark_rect(color=color, filled=filled, strokeWidth=width).encode(
        x=alt.value(x1 - OX), x2=alt.value(x2 - OX), y=alt.value(y1 - OY), y2=alt.value(y2 - OY))


annotations = [
    txt("Températures 2m", 60, 250),
    txt("Précipitations", 60, 498),
    txt("(°C)", 20, 606),
    txt("(mm)", 707, 607),
    hline(35, 65, 649, "#ff0000", 4),
    txt("Moyenne des scénarios", 75, 649),
    hline(225, 255, 634, "#0000ff", 4),
    txt("Run de contrôle", 265, 634),
    hline(225, 255, 644, "#000000", 4),
    txt("Run GFS", 265, 644),
    txt("20 Perturbations", 370, 649),
    box(20, 440, 660, 691, "black", filled=False, width=2),
    txt("Diagramme des ensembles GEFS sur 384h : 51.3N 14.1E", 30, 670, size=11.5, bold=True),
    txt("Température 2m (°C) , précipitations (mm)", 30, 684),
    txt("Ensemble GEFS du 08/01/2013 - 06h", 450, 666),
    txt("Copyright 2013 Meteociel.fr", 450, 684, size=11.5, bold=True),
]
for i, (name, col) in enumerate(zip(MEMBERS, COLORS)):
    x0 = 470 + i * 10.95
    annotations.append(box(x0, x0 + 10, 646, 653, col))
    annotations.append(txt(name, x0 + 5, 640, size=7.5, bold=True, align="center"))

inner = alt.layer(prob_bars, snow_band, snow_a, snow_b, day_grid, prob_text,
                  pert_lines, pert_pts, gfs_line, ctrl_line, mean_line, *annotations)

chart = alt.layer(right_layer, inner).resolve_axis(y="independent").properties(
    width=640, height=592,
    autosize=alt.AutoSizeParams(type="none"),
    padding={"left": 42, "top": 0, "right": 42, "bottom": 92},
).configure_view(strokeWidth=0).configure(background="white")

chart.save("out.html", embed_options={"renderer": "svg", "actions": False})
